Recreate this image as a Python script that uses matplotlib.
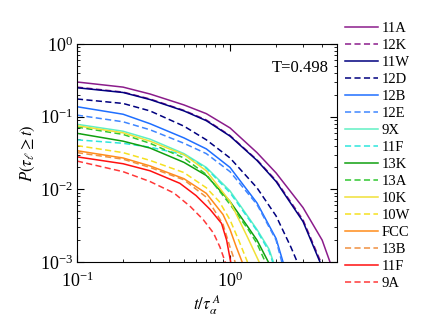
import matplotlib

matplotlib.use("Agg")
import matplotlib.pyplot as plt

plt.rcParams["font.family"] = ["Liberation Serif", "DejaVu Serif"]
plt.rcParams["mathtext.fontset"] = "stix"

# survival curves P(tau_l >= t)
t_11A = [0.1, 0.2, 0.3, 0.5, 0.7, 1.0, 1.5, 2.0, 3.0, 4.0, 4.5]
p_11A = [0.30, 0.255, 0.205, 0.145, 0.11, 0.070, 0.032, 0.0168, 0.0056, 0.0020, 0.001]
t_12K = [0.1, 0.2, 0.3, 0.5, 0.7, 1.0, 1.5, 2.0, 3.0, 3.92]
p_12K = [0.255, 0.218, 0.175, 0.122, 0.090, 0.055, 0.0255, 0.0132, 0.0038, 0.001]
t_11W = [0.1, 0.2, 0.3, 0.5, 0.7, 1.0, 1.5, 2.0, 3.0, 3.87]
p_11W = [0.25, 0.215, 0.172, 0.12, 0.088, 0.054, 0.025, 0.0128, 0.0036, 0.001]
t_12D = [0.1, 0.2, 0.3, 0.5, 0.7, 1.0, 1.5, 2.0, 2.5, 2.75]
p_12D = [0.175, 0.152, 0.12, 0.074, 0.048, 0.027, 0.0105, 0.0043, 0.0016, 0.001]
t_12B = [0.1, 0.2, 0.3, 0.5, 0.7, 1.0, 1.5, 2.0, 2.22]
p_12B = [0.137, 0.108, 0.080, 0.051, 0.036, 0.020, 0.0065, 0.0021, 0.001]
t_12E = [0.1, 0.2, 0.3, 0.5, 0.7, 1.0, 1.5, 2.0, 2.18]
p_12E = [0.105, 0.085, 0.066, 0.043, 0.031, 0.0175, 0.0062, 0.002, 0.001]
t_9X = [0.1, 0.2, 0.3, 0.5, 0.7, 1.0, 1.5, 1.8, 1.92]
p_9X = [0.0785, 0.063, 0.049, 0.031, 0.020, 0.0095, 0.0028, 0.0015, 0.001]
t_11Fd = [0.1, 0.2, 0.3, 0.5, 0.7, 1.0, 1.5, 1.8, 1.9]
p_11Fd = [0.048, 0.043, 0.038, 0.030, 0.0195, 0.009, 0.0027, 0.0014, 0.001]
t_13K = [0.1, 0.2, 0.3, 0.5, 0.7, 1.0, 1.3, 1.5, 1.78]
p_13K = [0.059, 0.046, 0.037, 0.0235, 0.0155, 0.0068, 0.0031, 0.0020, 0.001]
t_13A = [0.1, 0.2, 0.3, 0.5, 0.7, 1.0, 1.3, 1.5, 1.7]
p_13A = [0.072, 0.057, 0.043, 0.027, 0.016, 0.0062, 0.0029, 0.0018, 0.001]
t_10K = [0.1, 0.2, 0.3, 0.5, 0.7, 1.0, 1.3, 1.55]
p_10K = [0.075, 0.060, 0.046, 0.030, 0.018, 0.0068, 0.0022, 0.001]
t_10W = [0.1, 0.2, 0.3, 0.5, 0.7, 0.85, 1.0, 1.15, 1.3]
p_10W = [0.040, 0.032, 0.025, 0.017, 0.0105, 0.0068, 0.0038, 0.0019, 0.001]
t_FCC = [0.1, 0.2, 0.3, 0.5, 0.7, 0.9, 1.0, 1.1, 1.2]
p_FCC = [0.034, 0.027, 0.021, 0.0140, 0.0088, 0.0045, 0.0028, 0.0016, 0.001]
t_13B = [0.1, 0.2, 0.3, 0.5, 0.7, 0.9, 1.0, 1.08]
p_13B = [0.032, 0.026, 0.020, 0.0135, 0.0078, 0.0033, 0.0016, 0.001]
t_11F = [0.1, 0.2, 0.3, 0.47, 0.6, 0.74, 0.88, 0.95, 1.01]
p_11F = [0.028, 0.0225, 0.018, 0.0121, 0.0082, 0.0053, 0.0034, 0.0020, 0.001]
t_9A = [0.1, 0.2, 0.3, 0.43, 0.55, 0.67, 0.78, 0.86, 0.93]
p_9A = [0.0245, 0.0175, 0.0128, 0.0089, 0.0058, 0.0038, 0.0025, 0.0016, 0.001]

labels = ["11A", "12K", "11W", "12D", "12B", "12E", "9X", "11F",
          "13K", "13A", "10K", "10W", "FCC", "13B", "11F", "9A"]
times = [t_11A, t_12K, t_11W, t_12D, t_12B, t_12E, t_9X, t_11Fd,
         t_13K, t_13A, t_10K, t_10W, t_FCC, t_13B, t_11F, t_9A]
probs = [p_11A, p_12K, p_11W, p_12D, p_12B, p_12E, p_9X, p_11Fd,
         p_13K, p_13A, p_10K, p_10W, p_FCC, p_13B, p_11F, p_9A]
colors = ["#8b1c8b", "#8b1c8b", "#00007f", "#00007f", "#1f6fff", "#3f86ff",
          "#60f0c4", "#2ee6dc", "#10a010", "#30c830", "#f0e038", "#f5e020",
          "#ff8c1a", "#f09040", "#ff1010", "#ff3838"]

fig = plt.figure(figsize=(4.36, 3.19), dpi=100)
ax = fig.add_axes([0.1766, 0.1787, 0.5963, 0.6834])

for i, (t, p, lab, c) in enumerate(zip(times, probs, labels, colors)):
    ls = "-" if i % 2 == 0 else (0, (4, 2.2))
    ax.plot(t, p, color=c, lw=1.1, ls=ls, label=lab)

ax.set_xscale("log")
ax.set_yscale("log")
ax.set_xlim(0.1, 5)
ax.set_ylim(1e-3, 1)
ax.tick_params(which="both", direction="in", top=True, right=True, labelsize=13)
ax.tick_params(which="major", length=5)
ax.tick_params(which="minor", length=2.5)
ax.tick_params(axis="x", which="major", pad=7)
ax.tick_params(axis="y", which="major", pad=3)
ax.set_xlabel(r"$t/\tau_\alpha^{\ A}$", fontsize=12, labelpad=2)
ax.set_ylabel(r"$P(\tau_\ell \geq t)$", fontsize=12, labelpad=2)
ax.text(0.86, 0.89, "T=0.498", transform=ax.transAxes, ha="center", va="center", fontsize=12)

ax.legend(loc="upper left", bbox_to_anchor=(1.01, 1.13), frameon=False, fontsize=10.5,
          handlelength=2.2, handletextpad=0.3, labelspacing=0.262, borderaxespad=0)

fig.savefig("out.png", dpi=100)
